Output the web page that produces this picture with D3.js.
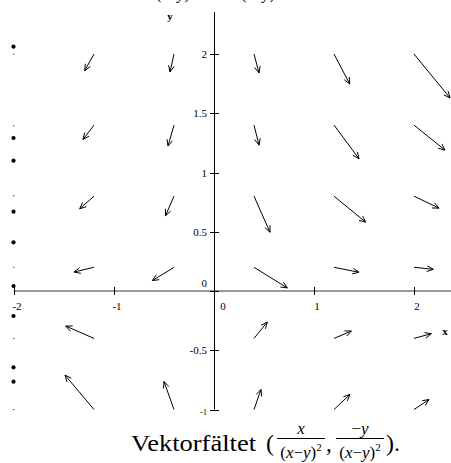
<!DOCTYPE html>
<html>
<head>
<meta charset="utf-8">
<script src="https://cdn.jsdelivr.net/npm/d3@7"></script>
<style>
  html, body { margin: 0; padding: 0; background: #fff; }
  svg { display: block; }
  text { font-family: "Liberation Serif", "DejaVu Serif", serif; fill: #000; }
</style>
</head>
<body>
<svg id="chart" width="451" height="463"></svg>
<script>
// Grid points where the field arrows start
const gridX = [-1.2, -0.4, 0.4, 1.2, 2.0];
const gridY = [2.0, 1.4, 0.8, 0.2, -0.4, -1.0];

// Drawn arrow components (data units), one row per gridY value; null = undefined (x = y)
const arrowU = [
  [-0.093, -0.040, 0.050, 0.157, 0.360],
  [-0.110, -0.060, 0.050, 0.250, 0.310],
  [-0.143, -0.085, 0.160, 0.317, 0.250],
  [-0.200, -0.217, 0.333, 0.250, 0.193],
  [-0.283, null,   0.133, 0.174, 0.173],
  [-0.290, -0.100, 0.070, 0.160, 0.150]
];
const arrowV = [
  [-0.141, -0.152, -0.160, -0.253, -0.371],
  [-0.121, -0.177, -0.169, -0.284, -0.211],
  [-0.106, -0.165, -0.304, -0.219, -0.101],
  [-0.040, -0.112, -0.174, -0.042, -0.017],
  [ 0.104, null,    0.138,  0.062,  0.040],
  [ 0.290,  0.236,  0.169,  0.127,  0.084]
];

// Degenerate marks along the x = -2 edge
const edgeX = -2;
const edgeDotY = [2.062, 1.291, 1.10, 0.669, 0.411, 0.042, -0.211, -0.645, -0.765];
const edgeTickY = [2.0, 1.395, 0.805, 0.2, -0.4, -1.0];

// Axis ticks and labels
const xTicks = [-2, -1, 0, 1, 2];
const xTickLabels = ["-2", "-1", "0", "1", "2"];
const yTicks = [-1, -0.5, 0, 0.5, 1, 1.5, 2];
const yTickLabels = ["-1", "-0.5", "0", "0.5", "1", "1.5", "2"];

const svg = d3.select("#chart");
const x = d3.scaleLinear().domain([-2, 2]).range([14, 414]);
const y = d3.scaleLinear().domain([-1, 2]).range([409.5, 54]);

// Title above the frame; only its lower edge is inside
const topTitle = svg.append("g").attr("font-size", 16);
[156, 241].forEach(tx => {
  const t = topTitle.append("text").attr("x", tx).attr("y", -1);
  t.append("tspan").text("(");
  t.append("tspan").attr("font-style", "italic").text("x");
  t.append("tspan").text("\u2212");
  t.append("tspan").attr("font-style", "italic").text("y");
  t.append("tspan").text(")");
});

// Axes
const axes = svg.append("g").attr("stroke", "#000").attr("stroke-width", 1);
axes.append("line")
  .attr("x1", x(-2)).attr("x2", 451)
  .attr("y1", y(0)).attr("y2", y(0))
  .attr("stroke", "#333");
axes.append("line")
  .attr("x1", x(0) + 0.5).attr("x2", x(0) + 0.5)
  .attr("y1", 12).attr("y2", y(-1));

axes.selectAll(".xt").data(xTicks).join("line")
  .attr("x1", d => x(d) + 0.5).attr("x2", d => x(d) + 0.5)
  .attr("y1", y(0) - 4).attr("y2", y(0) + 4);
axes.selectAll(".yt").data(yTicks).join("line")
  .attr("x1", x(0) - 4).attr("x2", x(0) + 5)
  .attr("y1", d => Math.round(y(d)) + 0.5).attr("y2", d => Math.round(y(d)) + 0.5);

svg.selectAll(".xl").data(xTicks).join("text")
  .attr("font-size", 11)
  .attr("text-anchor", "middle")
  .attr("x", d => x(d) + (d === 0 ? 9 : 3))
  .attr("y", y(0) + 19)
  .text((d, i) => xTickLabels[i]);

svg.selectAll(".yl").data(yTicks).join("text")
  .attr("font-size", d => d === -1 ? 8 : 11)
  .attr("text-anchor", "end")
  .attr("x", x(0) - 7)
  .attr("y", d => d === 0 ? y(0) - 4 : (d === -1 ? y(d) + 5 : y(d) + 4))
  .text((d, i) => yTickLabels[i]);

svg.append("text").attr("font-size", 11).attr("font-weight", "bold")
  .attr("x", 170).attr("y", 20).attr("text-anchor", "middle").text("y");
svg.append("text").attr("font-size", 11).attr("font-weight", "bold")
  .attr("x", 445).attr("y", 335).attr("text-anchor", "middle").text("x");

// Edge marks
svg.selectAll(".edot").data(edgeDotY).join("circle")
  .attr("cx", x(edgeX) - 0.5).attr("cy", d => y(d)).attr("r", 2.1).attr("fill", "#000");
svg.selectAll(".etick").data(edgeTickY).join("rect")
  .attr("x", x(edgeX) - 1).attr("y", d => y(d) - 0.5)
  .attr("width", 1.5).attr("height", 1.2).attr("fill", "#666");

// Field arrows
const arrows = [];
gridY.forEach((gy, r) => gridX.forEach((gx, c) => {
  const u = arrowU[r][c], v = arrowV[r][c];
  if (u === null || v === null) return;
  arrows.push({ x0: gx, y0: gy, x1: gx + u, y1: gy + v });
}));

const headLen = 7, headAng = 0.42;
function arrowPath(d) {
  const px0 = x(d.x0), py0 = y(d.y0), px1 = x(d.x1), py1 = y(d.y1);
  const a = Math.atan2(py1 - py0, px1 - px0);
  const b1x = px1 - headLen * Math.cos(a - headAng), b1y = py1 - headLen * Math.sin(a - headAng);
  const b2x = px1 - headLen * Math.cos(a + headAng), b2y = py1 - headLen * Math.sin(a + headAng);
  return `M${px0},${py0}L${px1},${py1}M${b1x},${b1y}L${px1},${py1}L${b2x},${b2y}`;
}
svg.append("g").selectAll("path").data(arrows).join("path")
  .attr("d", arrowPath)
  .attr("fill", "none").attr("stroke", "#000").attr("stroke-width", 1);

// Caption: Vektorfältet (x/(x-y)^2, -y/(x-y)^2).
const cap = svg.append("g");
const base = 451;
cap.append("text").attr("font-size", 23).attr("x", 131).attr("y", base)
  .attr("textLength", 125).attr("lengthAdjust", "spacingAndGlyphs").text("Vektorfältet");
cap.append("text").attr("font-size", 24).attr("x", 266).attr("y", base).text("(");

function fraction(cx, numParts) {
  const num = cap.append("text").attr("font-size", 17).attr("text-anchor", "middle")
    .attr("x", cx).attr("y", base - 17);
  numParts.forEach(p => num.append("tspan").attr("font-style", p.it ? "italic" : null).text(p.t));
  cap.append("line").attr("x1", cx - 24).attr("x2", cx + 24)
    .attr("y1", base - 12.5).attr("y2", base - 12.5)
    .attr("stroke", "#000").attr("stroke-width", 1);
  const den = cap.append("text").attr("font-size", 17).attr("text-anchor", "middle")
    .attr("x", cx).attr("y", base + 7);
  den.append("tspan").text("(");
  den.append("tspan").attr("font-style", "italic").text("x");
  den.append("tspan").text("\u2212");
  den.append("tspan").attr("font-style", "italic").text("y");
  den.append("tspan").text(")");
  den.append("tspan").attr("font-size", 11).attr("dy", -7).text("2");
}
fraction(301, [{ t: "x", it: true }]);
cap.append("text").attr("font-size", 23).attr("x", 326).attr("y", base).text(",");
fraction(360, [{ t: "\u2212" }, { t: "y", it: true }]);
cap.append("text").attr("font-size", 24).attr("x", 386).attr("y", base).text(").");
</script>
</body>
</html>
